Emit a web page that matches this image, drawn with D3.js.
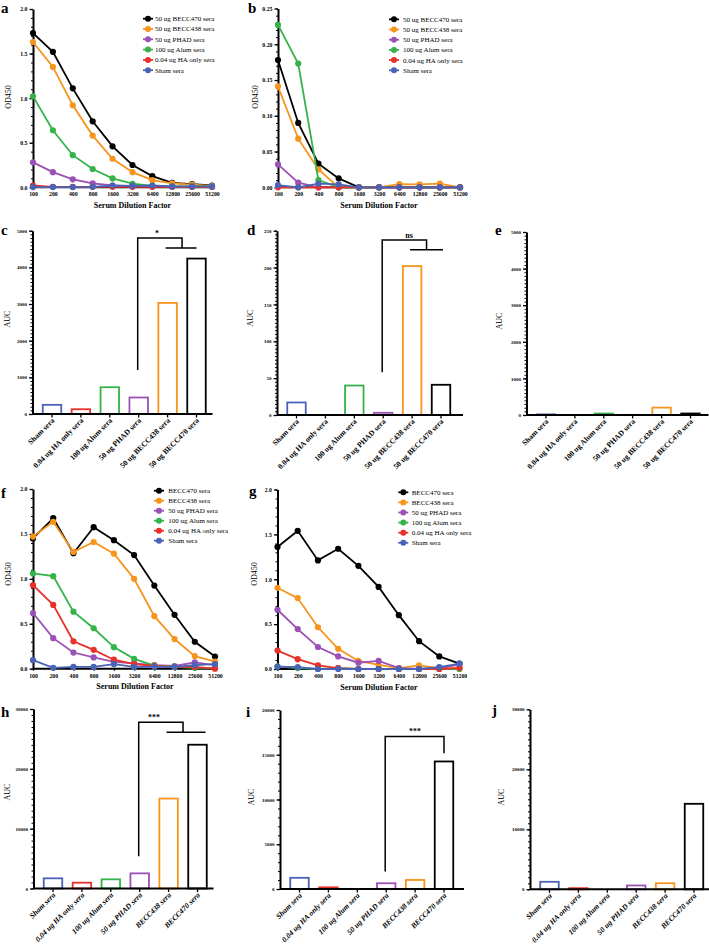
<!DOCTYPE html>
<html><head><meta charset="utf-8">
<script src="https://cdn.jsdelivr.net/npm/d3@7"></script>
<style>body{margin:0;background:#fff} svg{display:block}</style>
</head><body><svg id="chart" width="709" height="945"></svg>
<script>
// ---------- DATA ----------
const dilutions = ["100","200","400","800","1600","3200","6400","12800","25600","51200"];
const namesTop = ["50 ug BECC470 sera","50 ug BECC438 sera","50 ug PHAD sera","100 ug Alum sera","0.04 ug HA only sera","Sham sera"];
const namesBottom = ["BECC470 sera","BECC438 sera","50 ug PHAD sera","100 ug Alum sera","0.04 ug HA only sera","Sham sera"];
const seriesColors = ["#000000","#f7941d","#9b51b5","#35b34a","#e8312a","#4a63b6"];

const aBECC470 = [1.73,1.52,1.11,0.74,0.46,0.25,0.125,0.05,0.035,0.02];
const aBECC438 = [1.63,1.35,0.92,0.58,0.32,0.17,0.08,0.045,0.03,0.015];
const aPHAD    = [0.28,0.17,0.09,0.045,0.02,0.01,0.01,0.005,0.005,0.005];
const aAlum    = [1.02,0.64,0.36,0.205,0.10,0.04,0.015,0.01,0.01,0.01];
const aHA      = [0.02,0.005,0.005,0.005,0.005,0.005,0.005,0.005,0.005,0.005];
const aSham    = [0.003,0.003,0.003,0.005,0.02,0.015,0.02,0.01,0.01,0.01];

const bBECC470 = [0.178,0.09,0.033,0.0125,0,0,0,0,0,0];
const bBECC438 = [0.141,0.068,0.025,0,0,0,0.0045,0.004,0.005,0];
const bPHAD    = [0.032,0.0065,0,0,0,0,0,0,0,0];
const bAlum    = [0.227,0.173,0.01,0,0,0,0,0,0,0];
const bHA      = [0,0,0,0,0,0,0,0,0,0];
const bSham    = [0.003,0,0.005,0.004,0,0,0,0,0,0];

const fBECC470 = [1.45,1.675,1.285,1.575,1.43,1.265,0.925,0.60,0.30,0.135];
const fBECC438 = [1.47,1.635,1.30,1.41,1.28,1.0,0.585,0.33,0.14,0.08];
const fPHAD    = [0.62,0.34,0.18,0.125,0.075,0.06,0.04,0.03,0.07,0.04];
const fAlum    = [1.06,1.03,0.635,0.45,0.24,0.11,0.035,0.02,0.01,0.01];
const fHA      = [0.93,0.71,0.305,0.21,0.10,0.05,0.03,0.02,0.02,0.0];
const fSham    = [0.095,0.01,0.02,0.02,0.05,0.02,0.02,0.02,0.04,0.05];

const gBECC470 = [1.36,1.54,1.21,1.34,1.15,0.915,0.60,0.31,0.14,0.06];
const gBECC438 = [0.905,0.79,0.465,0.225,0.09,0.045,0.01,0.04,0.01,0.01];
const gPHAD    = [0.66,0.445,0.245,0.14,0.07,0.09,0.01,0.0,0.01,0.05];
const gAlum    = [0.03,0.01,0.0,0.01,0.0,0.0,0.0,0.0,0.0,0.0];
const gHA      = [0.205,0.11,0.04,0.01,0.0,0.0,0.0,0.0,0.0,0.01];
const gSham    = [0.025,0.02,0.0,0.0,0.0,0.0,0.0,0.0,0.02,0.06];

const barCatsTop = ["Sham sera","0.04 ug HA only sera","100 ug Alum sera","50 ug PHAD sera","50 ug BECC438 sera","50 ug BECC470 sera"];
const barCatsBottom = ["Sham sera","0.04 ug HA only sera","100 ug Alum sera","50 ug PHAD sera","BECC438 sera","BECC470 sera"];
const barColors = ["#4a63b6","#e8312a","#35b34a","#9b51b5","#f7941d","#000000"];

const aucC = [250,130,730,450,3030,4240];
const aucD = [17,0,40,3,202,41];
const aucE = [17,0,40,3,202,41];
const aucH = [1700,970,1530,2530,15030,24030];
const aucI = [1250,190,0,640,1010,14250];
const aucJ = [1250,190,0,640,1010,14250];

// ---------- DRAW ----------
const FONT = '"Liberation Serif","Times New Roman",serif';
const svg = d3.select("#chart");

function styleAxis(sel, fs) {
  sel.select(".domain").attr("stroke","#000").attr("stroke-width",2);
  sel.selectAll(".tick line").attr("stroke","#000").attr("stroke-width",1.3);
  sel.selectAll(".tick text").attr("font-size",fs).attr("font-weight","bold")
     .attr("font-family",FONT).attr("fill","#000");
}
function addText(x, y, str, o) {
  o = o || {};
  const t = svg.append("text").attr("x",x).attr("y",y).text(str)
    .attr("font-family",FONT).attr("font-size",o.fs||8).attr("fill","#000")
    .attr("font-weight",o.fw||"normal").attr("text-anchor",o.anchor||"start");
  if (o.rot) t.attr("transform",`rotate(${o.rot},${x},${y})`);
  if (o.style) t.attr("font-style",o.style);
  return t;
}

function linePanel(p) {
  const g = svg.append("g");
  const x = d3.scalePoint().domain(dilutions).range([p.x0, p.x1]);
  const y = d3.scaleLinear().domain([0, p.ymax]).range([p.yb, p.yt]);
  const eps = p.major/100;
  g.append("g").attr("transform",`translate(${p.x0},0)`)
    .call(d3.axisLeft(y).tickValues(d3.range(0, p.ymax+eps, p.minor)).tickSize(2).tickFormat(""))
    .call(s=>{s.select(".domain").remove(); s.selectAll("line").attr("stroke","#000").attr("stroke-width",1);});
  g.append("g").attr("transform",`translate(${p.x0},0)`)
    .call(d3.axisLeft(y).tickValues(d3.range(0, p.ymax+eps, p.major)).tickFormat(d3.format(p.fmt)).tickSize(3.5).tickSizeOuter(0).tickPadding(2))
    .call(s=>styleAxis(s,5.8));
  g.append("g").attr("transform",`translate(0,${p.yb})`)
    .call(d3.axisBottom(x).tickSize(2).tickSizeOuter(0).tickPadding(3))
    .call(s=>styleAxis(s,5.8))
    .call(s=>s.select(".domain").attr("d",`M${p.x0},0H${p.x1+2}`));
  const line = d3.line().x((d,i)=>x(dilutions[i])).y(d=>y(d));
  p.series.forEach((vals, k) => {
    g.append("path").datum(vals).attr("d",line).attr("fill","none")
      .attr("stroke",seriesColors[k]).attr("stroke-width",1.8);
    g.selectAll(null).data(vals).join("circle")
      .attr("cx",(d,i)=>x(dilutions[i])).attr("cy",d=>y(d)).attr("r",3.1)
      .attr("fill",seriesColors[k]);
  });
  p.names.forEach((n,k)=>{
    const yy = p.ly + k*p.lstep;
    svg.append("line").attr("x1",p.lx-5).attr("x2",p.lx+5).attr("y1",yy).attr("y2",yy)
      .attr("stroke",seriesColors[k]).attr("stroke-width",1.8);
    svg.append("circle").attr("cx",p.lx).attr("cy",yy).attr("r",3).attr("fill",seriesColors[k]);
    addText(p.ltx, yy+2.4, n, {fs:7});
  });
  addText(p.xlx, p.xly, "Serum Dilution Factor", {fs:8, fw:"bold", anchor:"middle"});
  addText(p.ylx, p.yly, "OD450", {fs:8, anchor:"middle", rot:-90});
  addText(p.letX, p.letY, p.letter, {fs:15, fw:"bold"});
}

function barPanel(p) {
  const g = svg.append("g");
  const x = d3.scalePoint().domain(p.cats).range([p.ax+19.5, p.ax+19.5+5*28.9]);
  const y = d3.scaleLinear().domain([0, p.ymax]).range([p.yb, p.yt]);
  const eps = p.major/100;
  g.append("g").attr("transform",`translate(${p.ax},0)`)
    .call(d3.axisLeft(y).tickValues(d3.range(0, p.ymax+eps, p.minor)).tickSize(2).tickFormat(""))
    .call(s=>{s.select(".domain").remove(); s.selectAll("line").attr("stroke","#000").attr("stroke-width",1);});
  g.append("g").attr("transform",`translate(${p.ax},0)`)
    .call(d3.axisLeft(y).tickValues(d3.range(0, p.ymax+eps, p.major)).tickFormat(d3.format("d")).tickSize(3.5).tickSizeOuter(0).tickPadding(2))
    .call(s=>styleAxis(s,5));
  g.selectAll("rect").data(p.values).join("rect")
    .attr("x",(d,i)=>x(p.cats[i])-9.25).attr("width",18.5)
    .attr("y",d=>y(d)).attr("height",d=>y(0)-y(d))
    .attr("fill","none").attr("stroke",(d,i)=>barColors[i]).attr("stroke-width",1.8);
  g.append("line").attr("x1",p.ax).attr("x2",p.ax+p.len).attr("y1",y(0)).attr("y2",y(0))
    .attr("stroke","#000").attr("stroke-width",2);
  p.cats.forEach((c,i)=>{
    const cx = x(c);
    g.append("line").attr("x1",cx).attr("x2",cx).attr("y1",y(0)).attr("y2",y(0)+3.5)
      .attr("stroke","#000").attr("stroke-width",1.3);
    addText(cx+3, y(0)+7, c, {fs:7.6, fw:"bold", anchor:"end", rot:-45, style:p.italic?"italic":null});
  });
  if (p.sig) {
    const s = p.sig;
    const xl = x(p.cats[3]) - 1;
    let d;
    if (s.split) {
      const xm = (x(p.cats[4]) + x(p.cats[5]))/2;
      d = `M${xl},${y(s.yLow)}V${y(s.yTop)}H${xm}V${y(s.yDrop)}M${x(p.cats[4])-2},${y(s.yDrop)}H${x(p.cats[5])+s.ext}`;
    } else {
      const xr = x(p.cats[5]);
      d = `M${xl},${y(s.yLow)}V${y(s.yTop)}H${xr}V${y(s.yDrop)}`;
    }
    g.append("path").attr("d",d).attr("fill","none").attr("stroke","#000").attr("stroke-width",1.5);
    addText(s.tx, y(s.yTop)-2, s.label, {fs:8, fw:"bold", anchor:"middle"});
  }
  addText(p.ylx, p.yly, "AUC", {fs:8, anchor:"middle", rot:-90});
  addText(p.letX, p.letY, p.letter, {fs:15, fw:"bold"});
}

linePanel({x0:33, x1:212, yb:187.3, yt:9, ymax:2, major:0.5, minor:0.1, fmt:".1f",
  series:[aBECC470,aBECC438,aPHAD,aAlum,aHA,aSham], names:namesTop,
  lx:148, ltx:155, ly:18.7, lstep:10.3, xlx:132.5, xly:207.5, ylx:11, yly:97, letter:"a", letX:1, letY:13});
linePanel({x0:278, x1:460, yb:187.3, yt:8.5, ymax:0.25, major:0.05, minor:0.01, fmt:".2f",
  series:[bBECC470,bBECC438,bPHAD,bAlum,bHA,bSham], names:namesTop,
  lx:394, ltx:403, ly:19.3, lstep:10.2, xlx:379, xly:207.5, ylx:258, yly:97, letter:"b", letX:248, letY:13});
linePanel({x0:33, x1:215, yb:668.7, yt:489, ymax:2, major:0.5, minor:0.1, fmt:".1f",
  series:[fBECC470,fBECC438,fPHAD,fAlum,fHA,fSham], names:namesBottom,
  lx:159, ltx:168.3, ly:490.7, lstep:10, xlx:135, xly:689, ylx:11, yly:574, letter:"f", letX:1, letY:498});
linePanel({x0:277.5, x1:459.5, yb:669, yt:489.5, ymax:2, major:0.5, minor:0.1, fmt:".1f",
  series:[gBECC470,gBECC438,gPHAD,gAlum,gHA,gSham], names:namesBottom,
  lx:403.3, ltx:411.7, ly:492.3, lstep:10.1, xlx:379, xly:689.5, ylx:257, yly:574, letter:"g", letX:249, letY:496});

barPanel({ax:32.5, yb:414, yt:230.7, ymax:5000, major:1000, minor:100, len:180, cats:barCatsTop, values:aucC,
  sig:{split:true, yLow:1200, yTop:4800, yDrop:4530, ext:0, label:"*", tx:157}, ylx:10, yly:319, letter:"c", letX:1, letY:235});
barPanel({ax:277, yb:415, yt:230.7, ymax:250, major:50, minor:5, len:186, cats:barCatsTop, values:aucD,
  sig:{split:true, yLow:58, yTop:237.5, yDrop:224, ext:2, label:"ns", tx:409}, ylx:253, yly:318, letter:"d", letX:247, letY:235});
barPanel({ax:526.5, yb:415, yt:232, ymax:5000, major:1000, minor:100, len:182, cats:barCatsTop, values:aucE,
  ylx:502, yly:321, letter:"e", letX:495, letY:235});
barPanel({ax:33.5, yb:888.5, yt:709, ymax:30000, major:10000, minor:1000, len:180, cats:barCatsBottom, values:aucH, italic:true,
  sig:{split:true, yLow:5400, yTop:27800, yDrop:26130, ext:8, label:"***", tx:154}, ylx:10, yly:792, letter:"h", letX:1, letY:717});
barPanel({ax:280, yb:889, yt:710, ymax:20000, major:5000, minor:1000, len:184, cats:barCatsBottom, values:aucI, italic:true,
  sig:{split:false, yLow:1950, yTop:17050, yDrop:15170, label:"***", tx:415}, ylx:254, yly:797, letter:"i", letX:246, letY:717});
barPanel({ax:530, yb:889.3, yt:709.3, ymax:30000, major:10000, minor:1000, len:183, cats:barCatsBottom, values:aucJ, italic:true,
  ylx:504, yly:797, letter:"j", letX:492, letY:715});
</script>
</body></html>
